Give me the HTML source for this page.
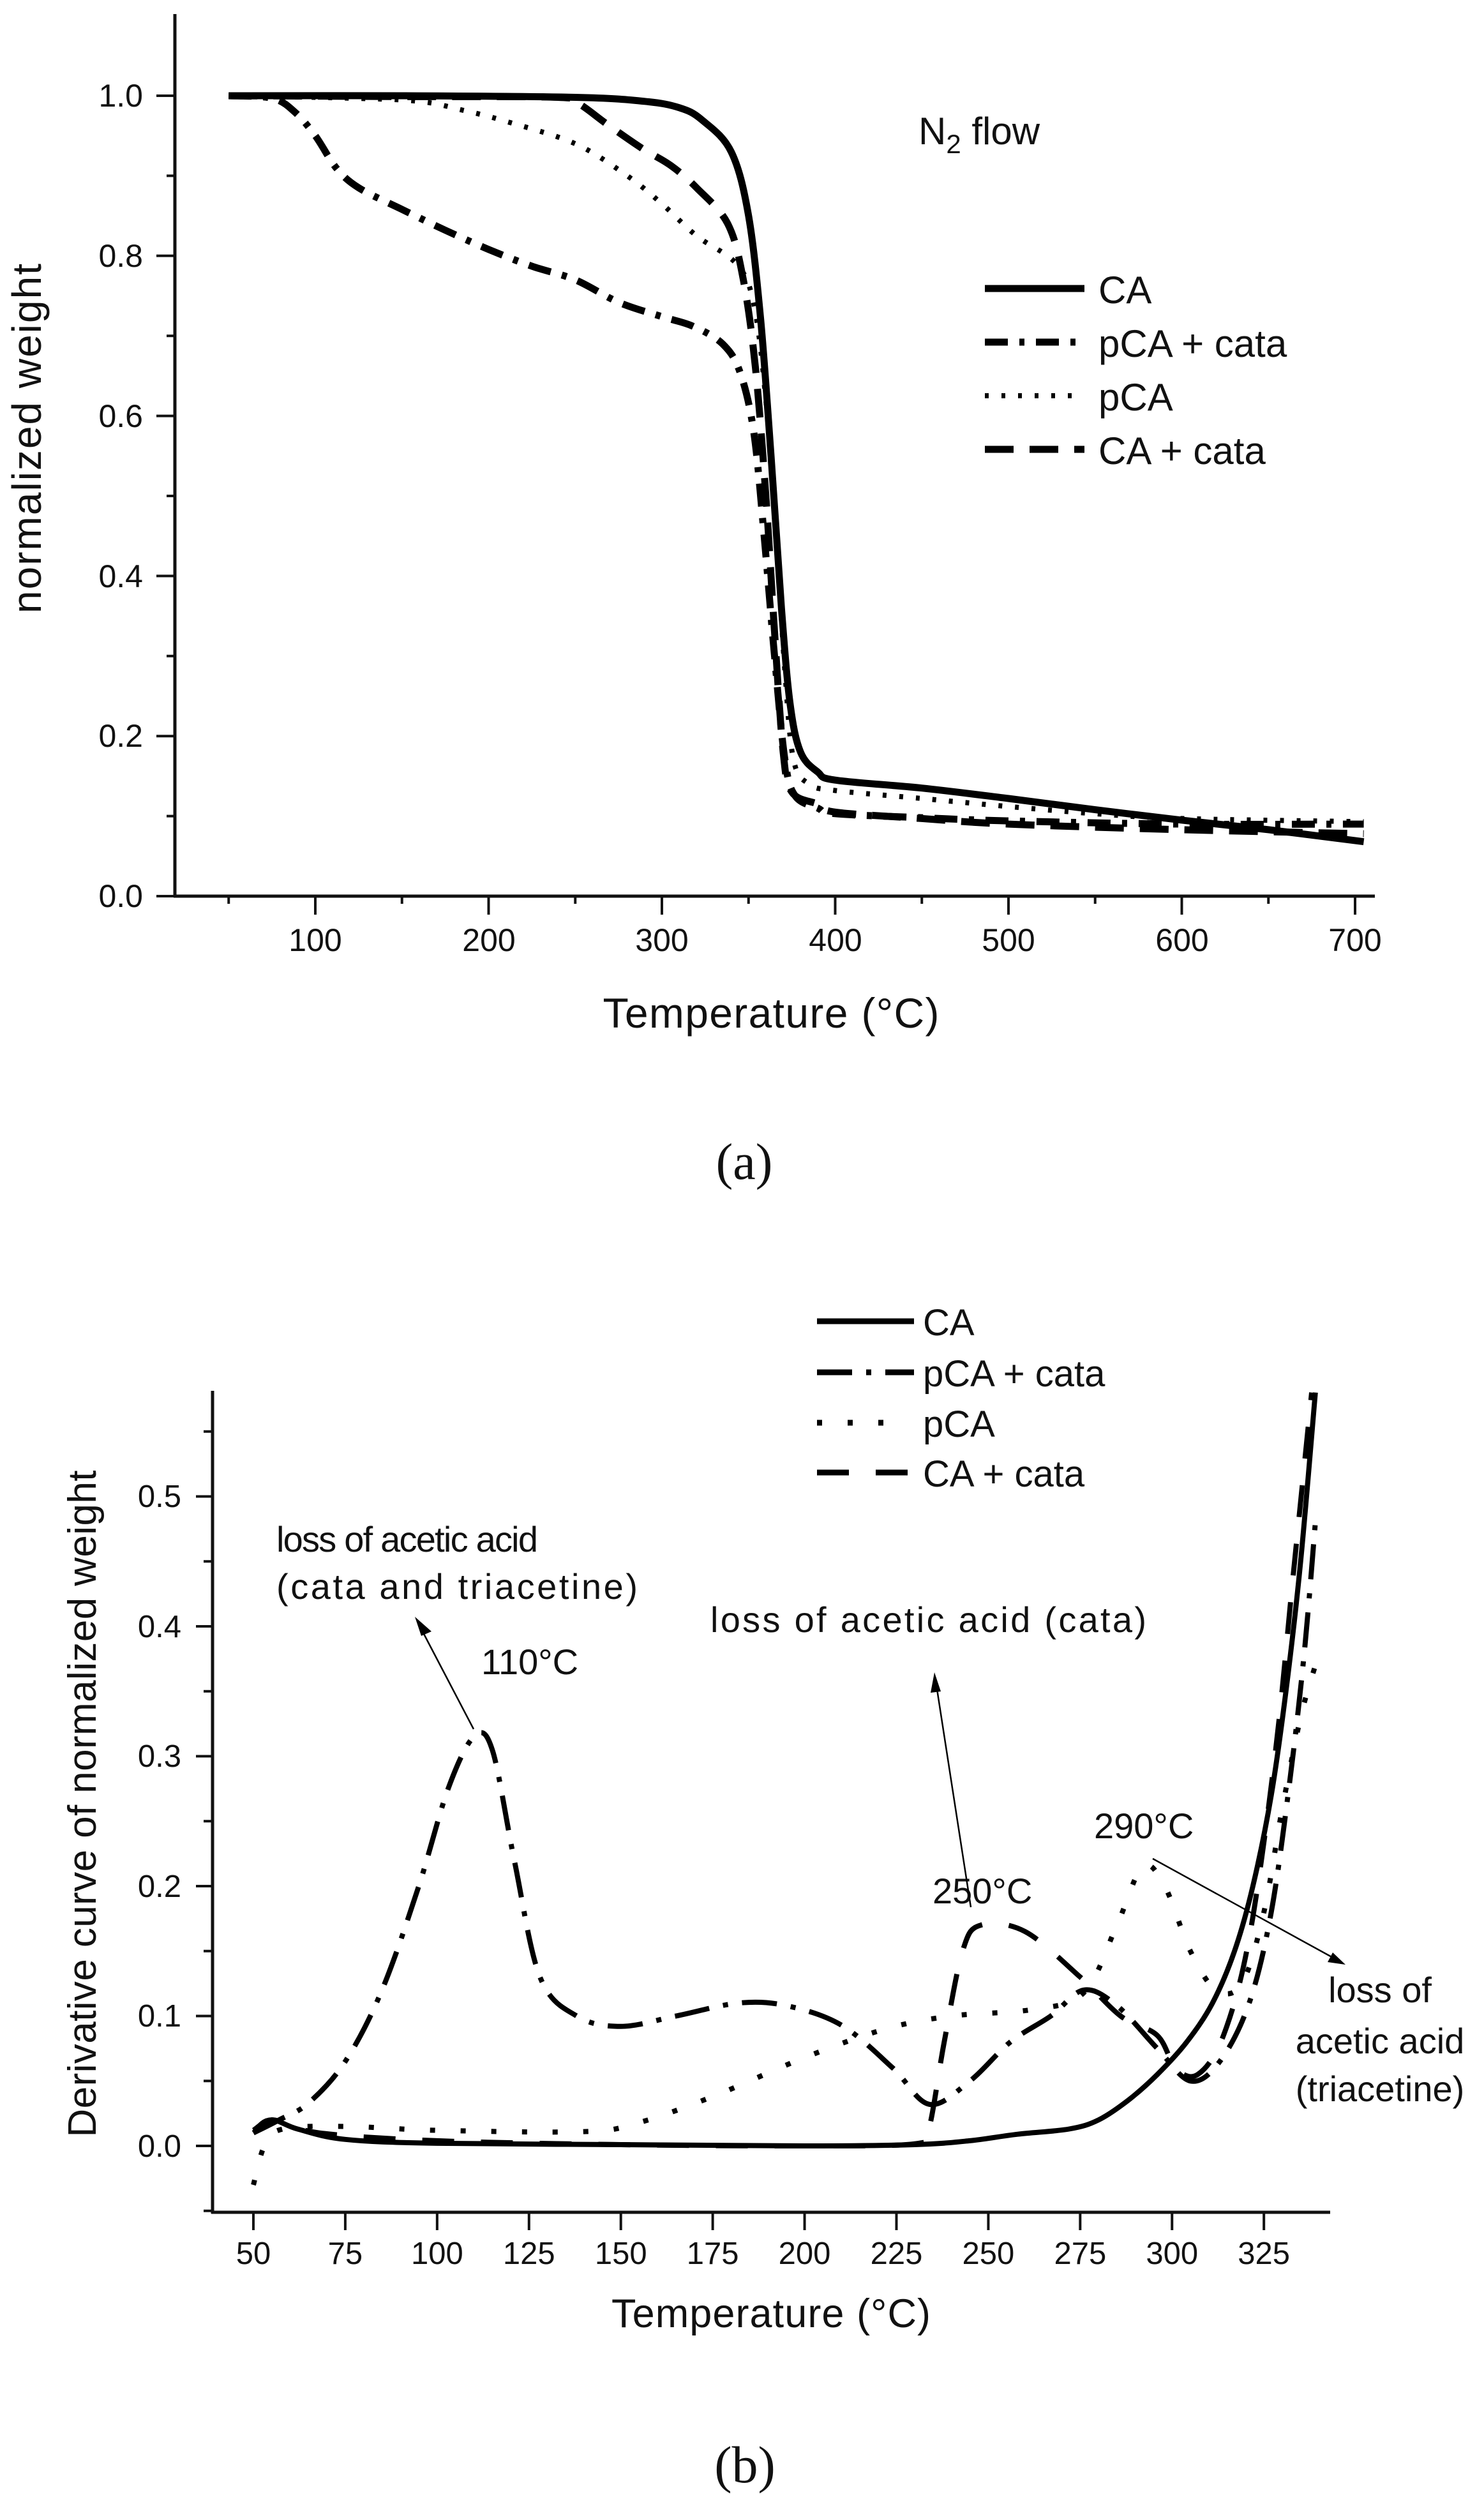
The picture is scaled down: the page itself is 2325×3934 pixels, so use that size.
<!DOCTYPE html>
<html><head><meta charset="utf-8">
<style>
html,body{margin:0;padding:0;background:#fff;}
svg{display:block;}
text{font-family:"Liberation Sans",Arial,sans-serif;fill:#111;}
.serif{font-family:"Liberation Serif",serif;}
</style></head>
<body>
<svg id="s" width="2325" height="3934" viewBox="0 0 2325 3934" xmlns="http://www.w3.org/2000/svg">
<rect width="2325" height="3934" fill="#fff"/>
<g stroke="#111" stroke-width="5" fill="none">
<line x1="274" y1="22" x2="274" y2="1406"/>
<line x1="272" y1="1404" x2="2154" y2="1404"/>
</g>
<g id="aTicks" stroke="#111" stroke-width="4"></g>
<g font-size="50" text-anchor="end">
<text x="224" y="167">1.0</text>
<text x="224" y="418">0.8</text>
<text x="224" y="669">0.6</text>
<text x="224" y="920">0.4</text>
<text x="224" y="1170">0.2</text>
<text x="224" y="1421">0.0</text>
</g>
<g font-size="50" text-anchor="middle">
<text x="494" y="1490">100</text><text x="766" y="1490">200</text><text x="1037" y="1490">300</text>
<text x="1309" y="1490">400</text><text x="1580" y="1490">500</text><text x="1852" y="1490">600</text><text x="2123" y="1490">700</text>
</g>
<text x="1208" y="1610" font-size="66" text-anchor="middle" textLength="527">Temperature (°C)</text>
<text transform="translate(64,687) rotate(-90)" font-size="64" text-anchor="middle" textLength="548">normalized weight</text>
<text x="1439" y="226" font-size="60">N<tspan font-size="42" dy="14">2</tspan><tspan dy="-14"> flow</tspan></text>
<g stroke="#000" stroke-width="11" fill="none">
<line x1="1543" y1="452" x2="1699" y2="452"/>
<line x1="1543" y1="536" x2="1699" y2="536" stroke-dasharray="36 18 8 18"/>
<line x1="1543" y1="620" x2="1699" y2="620" stroke-width="8" stroke-dasharray="6 20"/>
<line x1="1543" y1="704" x2="1699" y2="704" stroke-dasharray="45 25"/>
</g>
<g font-size="60">
<text x="1721" y="475">CA</text>
<text x="1721" y="559">pCA + cata</text>
<text x="1721" y="643">pCA</text>
<text x="1721" y="727">CA + cata</text>
</g>
<g id="aCurves" fill="none" stroke="#000" stroke-width="11" stroke-linejoin="round"></g>
<text class="serif" x="1166" y="1847" font-size="80" text-anchor="middle">(a)</text>

<g stroke="#111" stroke-width="5" fill="none">
<line x1="333" y1="2179" x2="333" y2="3468"/>
<line x1="331" y1="3466" x2="2084" y2="3466"/>
</g>
<g id="bTicks" stroke="#111" stroke-width="4"></g>
<g font-size="49" text-anchor="end">
<text x="284" y="3379">0.0</text>
<text x="284" y="3175">0.1</text>
<text x="284" y="2972">0.2</text>
<text x="284" y="2768">0.3</text>
<text x="284" y="2565">0.4</text>
<text x="284" y="2361">0.5</text>
</g>
<g id="bxl" font-size="49" text-anchor="middle"></g>
<text x="1208" y="3646" font-size="63" text-anchor="middle" textLength="500">Temperature (°C)</text>
<text transform="translate(150,2826) rotate(-90)" font-size="62" text-anchor="middle" textLength="1045">Derivative curve of normalized weight</text>
<g stroke="#000" stroke-width="9" fill="none">
<line x1="1280" y1="2070" x2="1432" y2="2070"/>
<line x1="1280" y1="2150" x2="1432" y2="2150" stroke-dasharray="55 22 8 22"/>
<line x1="1280" y1="2229" x2="1410" y2="2229" stroke-dasharray="8 40"/>
<line x1="1280" y1="2307" x2="1432" y2="2307" stroke-dasharray="50 42"/>
</g>
<g font-size="58">
<text x="1446" y="2092">CA</text>
<text x="1446" y="2172">pCA + cata</text>
<text x="1446" y="2251">pCA</text>
<text x="1446" y="2329">CA + cata</text>
</g>
<g font-size="56">
<text x="433" y="2431" textLength="410">loss of acetic acid</text>
<text x="433" y="2505" textLength="566">(cata and triacetine)</text>
<text x="754" y="2623">110°C</text>
<text x="1113" y="2557" textLength="683">loss of acetic acid (cata)</text>
<text x="1461" y="2982">250°C</text>
<text x="1714" y="2880">290°C</text>
<text x="2162" y="3137" text-anchor="middle">loss of</text>
<text x="2162" y="3217" text-anchor="middle">acetic acid</text>
<text x="2162" y="3292" text-anchor="middle">(triacetine)</text>
</g>
<g stroke="#000" stroke-width="2.5" fill="none">
<line x1="742" y1="2709" x2="662" y2="2556"/><path d="M650,2533 L676,2556 L660,2563 z" fill="#000" stroke="none"/>
<line x1="1521" y1="2988" x2="1467" y2="2640"/><path d="M1464,2620 L1474,2650 L1458,2652 z" fill="#000" stroke="none"/>
<line x1="1806" y1="2912" x2="2090" y2="3068"/><path d="M2108,3078 L2080,3074 L2088,3059 z" fill="#000" stroke="none"/>
</g>
<g id="bCurves" fill="none" stroke="#000" stroke-width="8" stroke-linejoin="round"></g>
<text class="serif" x="1167" y="3889" font-size="82" text-anchor="middle">(b)</text>
</svg>
<script>
var NS="http://www.w3.org/2000/svg";
function el(p,n,a){var e=document.createElementNS(NS,n);for(var k in a)e.setAttribute(k,a[k]);p.appendChild(e);return e;}
function smooth(pts){var d="M"+pts[0][0].toFixed(1)+","+pts[0][1].toFixed(1);
for(var i=0;i<pts.length-1;i++){var p0=pts[i-1]||pts[i],p1=pts[i],p2=pts[i+1],p3=pts[i+2]||p2;
var c1x=p1[0]+(p2[0]-p0[0])/6,c1y=p1[1]+(p2[1]-p0[1])/6,c2x=p2[0]-(p3[0]-p1[0])/6,c2y=p2[1]-(p3[1]-p1[1])/6;
d+=" C"+c1x.toFixed(1)+","+c1y.toFixed(1)+" "+c2x.toFixed(1)+","+c2y.toFixed(1)+" "+p2[0].toFixed(1)+","+p2[1].toFixed(1);}return d;}
function shiftT(t){if(t<=320||t>=400)return t;if(t<330)return t+5*(t-320)/10;if(t>390)return t+5*(400-t)/10;return t+5;}
var AX=function(t){return 494+(shiftT(t)-100)*2.715},AY=function(w){return 1404-w*1254};
var AXt=function(t){return 494+(t-100)*2.715};
var at=document.getElementById("aTicks");
for(var i=0;i<=10;i++){var y=AY(i*0.1);el(at,"line",{x1:i%2==0?245:261,y1:y,x2:274,y2:y});}
for(var t=50;t<=700;t+=50){var x=AXt(t);el(at,"line",{x1:x,y1:1404,x2:x,y2:t%100==0?1433:1416});}
var ac=document.getElementById("aCurves");
var A=[
[[],[[50,1],[150,1],[250,0.998],[290,0.993],[310,0.985],[322,0.97],[335,0.93],[345,0.85],[352,0.72],[358,0.55],[364,0.36],[369,0.24],[375,0.18],[385,0.155],[400,0.145],[450,0.135],[500,0.122],[550,0.108],[600,0.095],[650,0.083],[705,0.068]]],
[["36 18 8 18"],[[50,1],[75,0.997],[88,0.98],[100,0.95],[112,0.91],[125,0.885],[150,0.858],[175,0.832],[200,0.808],[225,0.787],[250,0.77],[275,0.742],[300,0.724],[318,0.712],[330,0.69],[340,0.655],[348,0.58],[354,0.45],[360,0.3],[366,0.17],[372,0.125],[385,0.11],[400,0.103],[450,0.098],[500,0.094],[600,0.09],[705,0.09]]],
[["6 20",8],[[50,1],[120,0.997],[160,0.993],[185,0.982],[210,0.968],[250,0.94],[280,0.9],[300,0.865],[320,0.825],[338,0.79],[348,0.74],[355,0.62],[361,0.45],[366,0.28],[371,0.17],[380,0.14],[400,0.132],[450,0.122],[500,0.112],[550,0.103],[600,0.097],[705,0.093]]],
[["45 25"],[[50,1],[150,0.999],[240,0.998],[252,0.99],[268,0.965],[288,0.935],[305,0.913],[320,0.885],[333,0.84],[342,0.77],[349,0.66],[355,0.5],[360,0.33],[365,0.18],[370,0.13],[385,0.115],[400,0.105],[450,0.097],[500,0.09],[600,0.083],[705,0.078]]]
];
A.forEach(function(c){var p=el(ac,"path",{d:smooth(c[1].map(function(q){return[AX(q[0]),AY(q[1])]}))});if(c[0][0])p.setAttribute("stroke-dasharray",c[0][0]);if(c[0][1])p.setAttribute("stroke-width",c[0][1]);});
var BX=function(t){return 397+(t-50)*5.757},BY=function(v){return 3362-v*2035};
var bt=document.getElementById("bTicks");
for(var i=-1;i<=11;i++){var y=BY(i*0.05);if(y<2185)continue;el(bt,"line",{x1:i%2==0?307:319,y1:y,x2:333,y2:y});}
var bx=document.getElementById("bxl");
for(var t=50;t<=325;t+=25){var x=BX(t);el(bt,"line",{x1:x,y1:3466,x2:x,y2:3494});var tx=el(bx,"text",{x:x,y:3547});tx.textContent=t;}
var bc=document.getElementById("bCurves");
var B=[
[[],[[50,0.012],[55,0.02],[62,0.013],[75,0.005],[100,0.002],[150,0.001],[200,0.0],[230,0.001],[245,0.004],[258,0.009],[272,0.013],[280,0.02],[288,0.035],[296,0.055],[304,0.08],[311,0.11],[317,0.15],[322,0.2],[327,0.27],[331,0.35],[335,0.45],[339,0.58]]],
[["55 22 8 22"],[[50,0.01],[57,0.02],[65,0.033],[75,0.065],[85,0.12],[95,0.2],[103,0.275],[110,0.315],[115,0.305],[121,0.22],[128,0.13],[138,0.1],[150,0.092],[165,0.1],[182,0.11],[195,0.108],[210,0.093],[224,0.06],[234,0.032],[245,0.05],[256,0.08],[267,0.1],[276,0.12],[285,0.108],[296,0.075],[305,0.05],[313,0.065],[321,0.11],[327,0.18],[332,0.28],[336,0.38],[339,0.48]]],
[["8 40"],[[50,-0.03],[53,0],[58,0.013],[75,0.015],[100,0.012],[140,0.011],[155,0.018],[175,0.038],[200,0.068],[222,0.09],[240,0.1],[262,0.105],[276,0.118],[285,0.17],[292,0.215],[298,0.2],[305,0.15],[312,0.12],[319,0.125],[325,0.18],[330,0.26],[335,0.33],[339,0.37]]],
[["50 42"],[[50,0.01],[55,0.02],[68,0.01],[100,0.004],[150,0.001],[200,0.0],[231,0.002],[234,0.015],[238,0.08],[243,0.15],[248,0.17],[260,0.165],[275,0.13],[286,0.1],[296,0.085],[301,0.06],[307,0.055],[314,0.085],[321,0.16],[328,0.3],[333,0.44],[338,0.58]]]
];
B.forEach(function(c){var p=el(bc,"path",{d:smooth(c[1].map(function(q){return[BX(q[0]),BY(q[1])]}))});if(c[0][0])p.setAttribute("stroke-dasharray",c[0][0]);});
</script>
</body></html>
